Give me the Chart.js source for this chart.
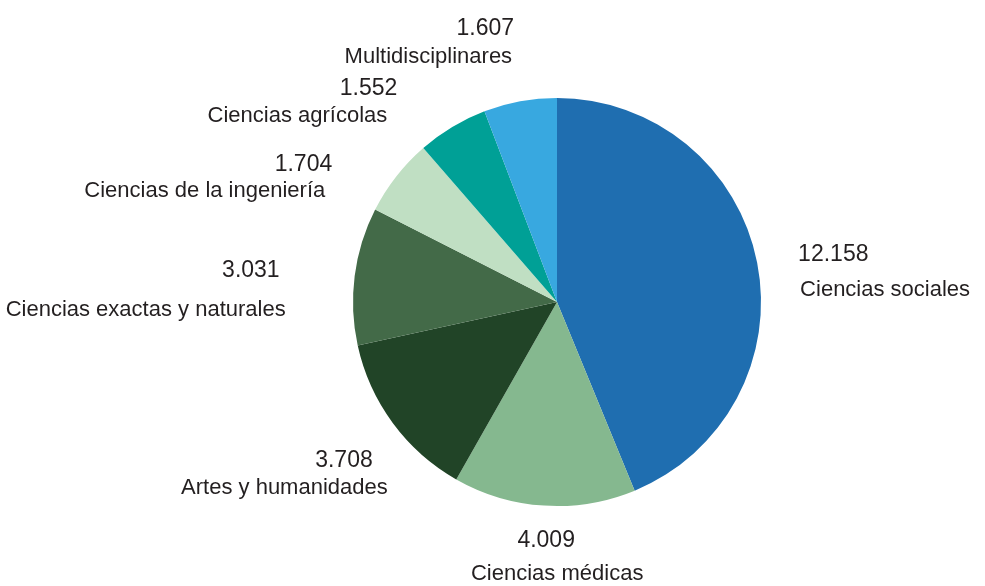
<!DOCTYPE html>
<html>
<head>
<meta charset="utf-8">
<script src="https://cdn.jsdelivr.net/npm/chart.js@4"></script>
<style>
  html, body { margin: 0; padding: 0; background: #fff; }
</style>
</head>
<body>
<canvas id="chart-pie" width="985" height="586"></canvas>
<script>
const categories = [
    'Ciencias sociales',
    'Ciencias médicas',
    'Artes y humanidades',
    'Ciencias exactas y naturales',
    'Ciencias de la ingeniería',
    'Ciencias agrícolas',
    'Multidisciplinares'
];
const values = [12158, 4009, 3708, 3031, 1704, 1552, 1607];
const colors = ['#1f6eb0', '#85b88f', '#214427', '#436a48', '#c0dfc3', '#00a096', '#38a8e0'];

// where each label sits, relative to the middle of its slice's outer edge
const labelOffsets = [
    { align: 'left',   num: [41, -8],   lab: [43, 28] },
    { align: 'center', num: [2, 35],    lab: [13, 68] },
    { align: 'right',  num: [-20, 38],  lab: [-5, 65] },
    { align: 'right',  num: [-75, -5],  lab: [-69, 34] },
    { align: 'right',  num: [-64, -12], lab: [-71, 15] },
    { align: 'right',  num: [-55, -38], lab: [-65, -11] },
    { align: 'right',  num: [-6, -73],  lab: [-8, -44] }
];

function formatNumber(n) {
    return String(n).replace(/\B(?=(\d{3})+(?!\d))/g, '.');
}

const outsideLabels = {
    id: 'outsideLabels',
    afterDatasetsDraw(chart) {
        const ctx = chart.ctx;
        const arcs = chart.getDatasetMeta(0).data;
        ctx.save();
        ctx.fillStyle = '#231f20';
        ctx.textBaseline = 'middle';
        arcs.forEach((arc, i) => {
            const mid = (arc.startAngle + arc.endAngle) / 2;
            const ex = arc.x + Math.cos(mid) * arc.outerRadius;
            const ey = arc.y + Math.sin(mid) * arc.outerRadius;
            const off = labelOffsets[i];
            ctx.textAlign = off.align;
            ctx.font = '23px "Liberation Sans", Arial, sans-serif';
            ctx.fillText(formatNumber(values[i]), ex + off.num[0], ey + off.num[1]);
            ctx.font = '22px "Liberation Sans", Arial, sans-serif';
            ctx.fillText(categories[i], ex + off.lab[0], ey + off.lab[1]);
        });
        ctx.restore();
    }
};

new Chart(document.getElementById('chart-pie'), {
    type: 'pie',
    data: {
        labels: categories,
        datasets: [{
            data: values,
            backgroundColor: colors,
            borderWidth: 0
        }]
    },
    options: {
        responsive: false,
        animation: false,
        layout: {
            padding: { left: 353, right: 224, top: 98, bottom: 80 }
        },
        plugins: {
            legend: { display: false },
            tooltip: { enabled: false }
        }
    },
    plugins: [outsideLabels]
});
</script>
</body>
</html>
